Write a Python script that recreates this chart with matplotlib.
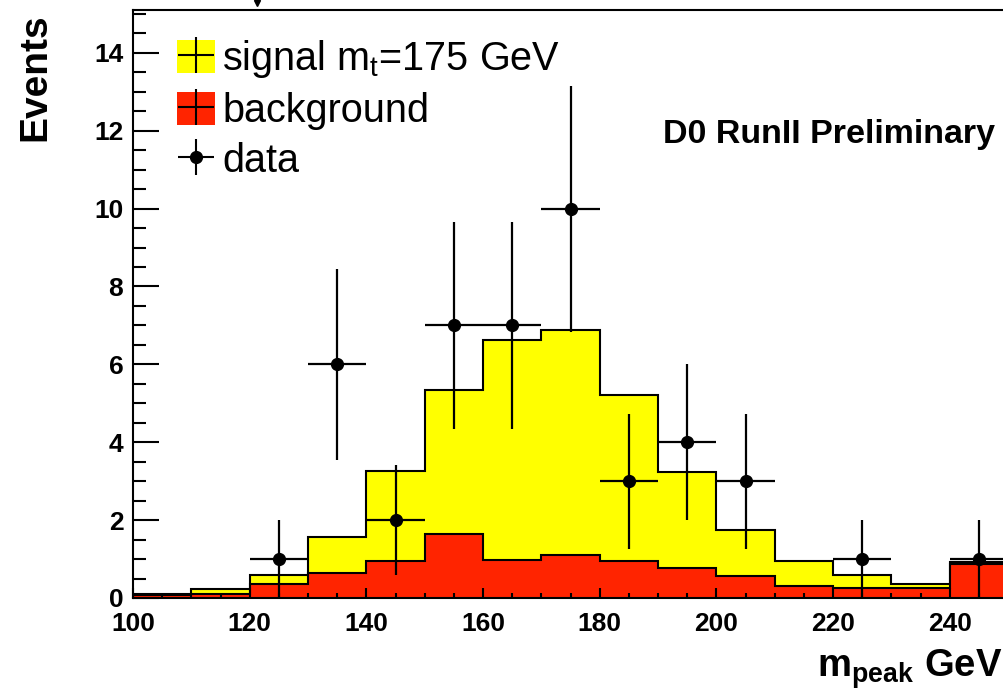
import numpy as np
import matplotlib
matplotlib.use("Agg")
import matplotlib.pyplot as plt
from matplotlib.patches import Patch
from matplotlib.lines import Line2D
from matplotlib.ticker import MultipleLocator

plt.rcParams['font.family'] = ['Liberation Sans', 'DejaVu Sans']
plt.rcParams['mathtext.fontset'] = 'custom'
plt.rcParams['mathtext.rm'] = 'Liberation Sans'
plt.rcParams['mathtext.it'] = 'Liberation Sans'
plt.rcParams['mathtext.bf'] = 'Liberation Sans:bold'

# bins of m_peak (GeV)
bin_edges = [100, 110, 120, 130, 140, 150, 160, 170, 180, 190, 200, 210, 220, 230, 240, 250]
background = [0.08, 0.10, 0.35, 0.64, 0.95, 1.65, 0.98, 1.11, 0.95, 0.78, 0.57, 0.32, 0.25, 0.25, 0.88]
signal = [0.01, 0.12, 0.25, 0.92, 2.32, 3.68, 5.65, 5.76, 4.26, 2.46, 1.18, 0.63, 0.33, 0.11, 0.04]

# data points
data_x = [125, 135, 145, 155, 165, 175, 185, 195, 205, 225, 245]
data_y = [1, 6, 2, 7, 7, 10, 3, 4, 3, 1, 1]
data_err = [1, 2.45, 1.41, 2.65, 2.65, 3.16, 1.73, 2, 1.73, 1, 1]

yellow = '#ffff00'
red = '#ff2400'

fig = plt.figure(figsize=(10.04, 6.91), dpi=100)
ax = fig.add_axes([0.1325, 0.1346, 0.8675, 0.8509])

edges = np.array(bin_edges)
bg = np.array(background)
total = bg + np.array(signal)

ax.stairs(total, edges, fill=True, color=yellow, zorder=1)
ax.stairs(total, edges, color='black', lw=1.5, zorder=1.2)
ax.stairs(bg, edges, fill=True, color=red, zorder=1.3)
ax.stairs(bg, edges, color='black', lw=1.5, zorder=1.4)

ax.errorbar(data_x, data_y, yerr=data_err, xerr=5, fmt='o', color='black',
            ms=8.5, elinewidth=1.6, capsize=0, zorder=3)

ax.set_xlim(100, 249.3)
ax.set_ylim(0, 15.1)

ax.xaxis.set_major_locator(MultipleLocator(20))
ax.xaxis.set_minor_locator(MultipleLocator(5))
ax.yaxis.set_major_locator(MultipleLocator(2))
ax.yaxis.set_minor_locator(MultipleLocator(0.5))
ax.tick_params(axis='y', which='major', direction='in', length=19, width=1.5, pad=7,
               labelsize=19)
ax.tick_params(axis='y', which='minor', direction='in', length=9.5, width=1.5)
ax.tick_params(axis='x', which='major', direction='in', length=7, width=1.5, pad=10,
               labelsize=19)
ax.tick_params(axis='x', which='minor', direction='in', length=3.5, width=1.5)
for lab in ax.get_xticklabels() + ax.get_yticklabels():
    lab.set_fontweight('bold')

ax.spines['right'].set_visible(False)
for s in ['left', 'top', 'bottom']:
    ax.spines[s].set_linewidth(1.5)

ax.set_ylabel('Events', fontsize=28, fontweight='bold', loc='top')
ax.yaxis.set_label_coords(-0.091, 0.995)
ax.set_xlabel(r'$\mathbf{m}_{\mathbf{peak}}$ GeV', fontsize=27.5, fontweight='bold')
ax.xaxis.label.set_ha('left')
ax.xaxis.label.set_va('baseline')
ax.xaxis.set_label_coords(0.7855, -0.134)

ax.text(0.6085, 0.774, 'D0 RunII Preliminary', transform=ax.transAxes,
        fontsize=24.5, fontweight='bold', ha='left', va='baseline')

cross = Line2D([], [], marker='+', ms=26, mew=1.5, color='black', ls='none')
h_sig = (Patch(fc=yellow, ec='none'), cross)
h_bg = (Patch(fc=red, ec='none'), cross)
h_data = (Line2D([], [], marker='+', ms=26, mew=1.5, color='black', ls='none'),
          Line2D([], [], marker='o', ms=8.5, color='black', ls='none'))
ax.legend([h_sig, h_bg, h_data],
          [r'signal m$_{\mathrm{t}}$=175 GeV', 'background', 'data'],
          loc='upper left', bbox_to_anchor=(0.05, 0.952), frameon=False,
          fontsize=28.5, handlelength=0.96, handleheight=0.88, handletextpad=0.2,
          labelspacing=0.3, borderpad=0, borderaxespad=0)

fig.add_artist(Line2D([257 / 1004], [1 - 3 / 691], marker='v', ms=4, color='black',
                      transform=fig.transFigure))

fig.savefig('out.png', dpi=100)
